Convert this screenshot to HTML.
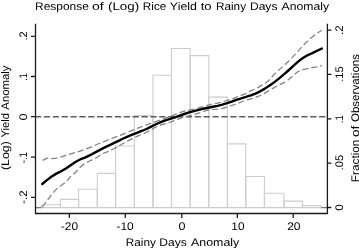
<!DOCTYPE html>
<html><head><meta charset="utf-8"><style>
html,body{margin:0;padding:0;background:#fff;}
svg{display:block;will-change:transform;}
text{font-family:"Liberation Sans",sans-serif;font-size:11px;fill:#000;text-rendering:geometricPrecision;}
</style></head><body>
<svg width="359" height="248" viewBox="0 0 359 248">
<rect width="359" height="248" fill="#fff"/>
<g fill="none" stroke="#cdcdcd" stroke-width="1.1">
<line x1="35.5" y1="207.6" x2="327" y2="207.6"/>
<path d="M41.50,207.6 V204.8 H60.40 V207.6"/>
<path d="M60.40,207.6 V199.4 H78.60 V207.6"/>
<path d="M78.60,207.6 V189.3 H97.30 V207.6"/>
<path d="M97.30,207.6 V173.4 H115.60 V207.6"/>
<path d="M115.60,207.6 V146.0 H134.40 V207.6"/>
<path d="M134.40,207.6 V115.5 H153.00 V207.6"/>
<path d="M153.00,207.6 V75.3 H171.50 V207.6"/>
<path d="M171.50,207.6 V48.5 H190.20 V207.6"/>
<path d="M190.20,207.6 V55.6 H208.80 V207.6"/>
<path d="M208.80,207.6 V97.1 H227.40 V207.6"/>
<path d="M227.40,207.6 V143.9 H245.80 V207.6"/>
<path d="M245.80,207.6 V176.5 H264.40 V207.6"/>
<path d="M264.40,207.6 V193.2 H283.90 V207.6"/>
<path d="M283.90,207.6 V201.1 H302.50 V207.6"/>
<path d="M302.50,207.6 V205.6 H321.00 V207.6"/>
</g>
<g stroke="#777" stroke-width="1.2" fill="none">
<line x1="36" y1="207.6" x2="41.5" y2="207.6"/>
<line x1="321.2" y1="207.6" x2="327" y2="207.6"/>
</g>
<line x1="35.5" y1="116.7" x2="325.4" y2="116.7" stroke="#5e5e5e" stroke-width="1.6" stroke-dasharray="6.3 2.578" stroke-dashoffset="0.55"/>
<polyline points="42.20,160.65 46.94,158.10 51.68,158.52 56.42,158.13 61.16,156.91 65.89,155.47 70.63,153.96 75.37,152.51 80.11,151.03 84.85,149.45 89.59,147.64 94.33,145.58 99.07,143.52 103.81,141.58 108.55,139.73 113.28,137.94 118.02,136.20 122.76,134.34 127.50,132.40 132.24,130.44 136.98,128.47 141.72,126.58 146.46,124.87 151.20,123.21 155.94,121.56 160.67,119.90 165.41,118.19 170.15,116.45 174.89,114.59 179.63,112.64 184.37,111.18 189.11,110.20 193.85,109.15 198.59,107.90 203.33,106.49 208.06,105.13 212.80,104.02 217.54,103.21 222.28,101.93 227.02,100.41 231.76,99.42 236.50,97.19 241.24,95.37 245.98,93.31 250.72,90.88 255.45,88.95 260.19,86.15 264.93,83.64 269.67,79.62 274.41,74.07 279.15,69.64 283.89,65.67 288.63,61.27 293.37,56.31 298.11,51.05 302.84,45.72 307.58,41.17 312.32,37.03 317.06,33.27 321.80,30.24" fill="none" stroke="#808080" stroke-width="1.25" stroke-dasharray="6.2 2.9" stroke-dashoffset="-0.6"/>
<polyline points="42.20,207.07 46.94,200.79 51.68,194.40 56.42,189.13 61.16,185.51 65.89,182.12 70.63,176.64 75.37,172.54 80.11,167.24 84.85,163.45 89.59,161.05 94.33,158.93 99.07,156.04 103.81,153.27 108.55,151.42 113.28,149.05 118.02,146.37 122.76,143.69 127.50,141.09 132.24,138.64 136.98,136.42 141.72,134.40 146.46,132.30 151.20,129.83 155.94,127.04 160.67,124.95 165.41,123.62 170.15,122.28 174.89,120.50 179.63,118.65 184.37,117.01 189.11,115.75 193.85,114.58 198.59,113.13 203.33,111.49 208.06,110.13 212.80,109.43 217.54,109.05 222.28,108.37 227.02,107.14 231.76,105.53 236.50,103.75 241.24,101.99 245.98,100.38 250.72,98.94 255.45,97.41 260.19,95.52 264.93,93.10 269.67,90.33 274.41,87.49 279.15,84.97 283.89,82.65 288.63,79.52 293.37,75.38 298.11,71.47 302.84,69.55 307.58,68.58 312.32,67.66 317.06,66.88 321.80,65.58" fill="none" stroke="#808080" stroke-width="1.25" stroke-dasharray="6.2 2.9"/>
<polyline points="42.20,184.04 46.94,180.10 51.68,176.55 56.42,173.63 61.16,171.26 65.89,168.47 70.63,165.25 75.37,162.03 80.11,159.45 84.85,157.70 89.59,155.44 94.33,152.87 99.07,150.35 103.81,147.93 108.55,145.64 113.28,143.39 118.02,141.07 122.76,138.76 127.50,136.58 132.24,134.60 136.98,132.80 141.72,130.99 146.46,129.01 151.20,126.68 155.94,124.22 160.67,122.07 165.41,120.29 170.15,118.88 174.89,117.35 179.63,115.70 184.37,114.00 189.11,112.45 193.85,111.09 198.59,109.92 203.33,108.75 208.06,107.72 212.80,106.75 217.54,105.84 222.28,104.67 227.02,103.17 231.76,101.51 236.50,99.84 241.24,98.34 245.98,96.94 250.72,95.42 255.45,93.58 260.19,91.30 264.93,88.60 269.67,85.53 274.41,82.12 279.15,78.41 283.89,74.43 288.63,70.23 293.37,65.84 298.11,61.62 302.84,57.96 307.58,55.23 312.32,53.19 317.06,50.76 321.80,48.58" fill="none" stroke="#000" stroke-width="2.4" stroke-linejoin="round" stroke-linecap="round"/>
<g stroke="#1a1a1a" stroke-width="1.3" fill="none">
<path d="M35.5,23.8 V213.5 H327.4 V23.8"/>
<path d="M31.0,36.4 H35.5 M31.0,76.5 H35.5 M31.0,116.7 H35.5 M31.0,157.2 H35.5 M31.0,197.4 H35.5"/>
<path d="M327.4,30.1 H331.4 M327.4,74.45 H331.4 M327.4,118.8 H331.4 M327.4,163.15 H331.4 M327.4,207.5 H331.4"/>
<path d="M69.35,213.5 V218 M125.3,213.5 V218 M181.8,213.5 V218 M237.35,213.5 V218 M293.25,213.5 V218"/>
</g>
<text x="35.01" y="9.8" font-size="12.1" textLength="53.85" lengthAdjust="spacingAndGlyphs">Response</text>
<text x="91.92" y="9.8" font-size="12.1" textLength="11.70" lengthAdjust="spacingAndGlyphs">of</text>
<text x="107.97" y="9.8" font-size="12.1" textLength="31.24" lengthAdjust="spacingAndGlyphs">(Log)</text>
<text x="142.83" y="9.8" font-size="12.1" textLength="23.56" lengthAdjust="spacingAndGlyphs">Rice</text>
<text x="169.89" y="9.8" font-size="12.1" textLength="27.03" lengthAdjust="spacingAndGlyphs">Yield</text>
<text x="200.73" y="9.8" font-size="12.1" textLength="10.91" lengthAdjust="spacingAndGlyphs">to</text>
<text x="215.93" y="9.8" font-size="12.1" textLength="30.14" lengthAdjust="spacingAndGlyphs">Rainy</text>
<text x="249.90" y="9.8" font-size="12.1" textLength="27.56" lengthAdjust="spacingAndGlyphs">Days</text>
<text x="281.50" y="9.8" font-size="12.1" textLength="47.56" lengthAdjust="spacingAndGlyphs">Anomaly</text>
<text x="125.79" y="245.7" font-size="11.7" textLength="30.05" lengthAdjust="spacingAndGlyphs">Rainy</text>
<text x="159.37" y="245.7" font-size="11.7" textLength="27.43" lengthAdjust="spacingAndGlyphs">Days</text>
<text x="191.00" y="245.7" font-size="11.7" textLength="48.25" lengthAdjust="spacingAndGlyphs">Anomaly</text>
<text transform="translate(8.9,0) rotate(-90)" x="-170.11" y="0" font-size="11.5" textLength="29.04" lengthAdjust="spacingAndGlyphs">(Log)</text>
<text transform="translate(8.9,0) rotate(-90)" x="-137.64" y="0" font-size="11.5" textLength="24.59" lengthAdjust="spacingAndGlyphs">Yield</text>
<text transform="translate(8.9,0) rotate(-90)" x="-109.70" y="0" font-size="11.5" textLength="44.20" lengthAdjust="spacingAndGlyphs">Anomaly</text>
<text transform="translate(359.2,0) rotate(-90)" x="-182.23" y="0" font-size="11.5" textLength="42.64" lengthAdjust="spacingAndGlyphs">Fraction</text>
<text transform="translate(359.2,0) rotate(-90)" x="-137.09" y="0" font-size="11.5" textLength="11.30" lengthAdjust="spacingAndGlyphs">of</text>
<text transform="translate(359.2,0) rotate(-90)" x="-122.10" y="0" font-size="11.5" textLength="68.12" lengthAdjust="spacingAndGlyphs">Observations</text>
<text x="60.78" y="230.0" font-size="11.5" textLength="17.31" lengthAdjust="spacingAndGlyphs">-20</text>
<text x="116.48" y="230.0" font-size="11.5" textLength="17.31" lengthAdjust="spacingAndGlyphs">-10</text>
<text x="178.45" y="230.0" font-size="11.5" textLength="6.99" lengthAdjust="spacingAndGlyphs">0</text>
<text x="231.37" y="230.0" font-size="11.5" textLength="13.19" lengthAdjust="spacingAndGlyphs">10</text>
<text x="287.18" y="230.0" font-size="11.5" textLength="13.40" lengthAdjust="spacingAndGlyphs">20</text>
<text transform="translate(26.6,0) rotate(-90)" x="-40.56" y="0" font-size="11.5" textLength="9.23" lengthAdjust="spacingAndGlyphs">.2</text>
<text transform="translate(26.6,0) rotate(-90)" x="-80.66" y="0" font-size="11.5" textLength="7.32" lengthAdjust="spacingAndGlyphs">.1</text>
<text transform="translate(26.6,0) rotate(-90)" x="-120.45" y="0" font-size="11.5" textLength="7.11" lengthAdjust="spacingAndGlyphs">0</text>
<text transform="translate(26.6,0) rotate(-90)" x="-163.32" y="0" font-size="11.5" textLength="11.29" lengthAdjust="spacingAndGlyphs">-.1</text>
<text transform="translate(26.6,0) rotate(-90)" x="-203.79" y="0" font-size="11.5" textLength="13.26" lengthAdjust="spacingAndGlyphs">-.2</text>
<text transform="translate(342.9,0) rotate(-90)" x="-34.90" y="0" font-size="11.5" textLength="9.59" lengthAdjust="spacingAndGlyphs">.2</text>
<text transform="translate(342.9,0) rotate(-90)" x="-81.87" y="0" font-size="11.5" textLength="15.56" lengthAdjust="spacingAndGlyphs">.15</text>
<text transform="translate(342.9,0) rotate(-90)" x="-123.12" y="0" font-size="11.5" textLength="7.91" lengthAdjust="spacingAndGlyphs">.1</text>
<text transform="translate(342.9,0) rotate(-90)" x="-170.27" y="0" font-size="11.5" textLength="15.56" lengthAdjust="spacingAndGlyphs">.05</text>
<text transform="translate(342.9,0) rotate(-90)" x="-210.80" y="0" font-size="11.5" textLength="6.41" lengthAdjust="spacingAndGlyphs">0</text>
</svg>
</body></html>
